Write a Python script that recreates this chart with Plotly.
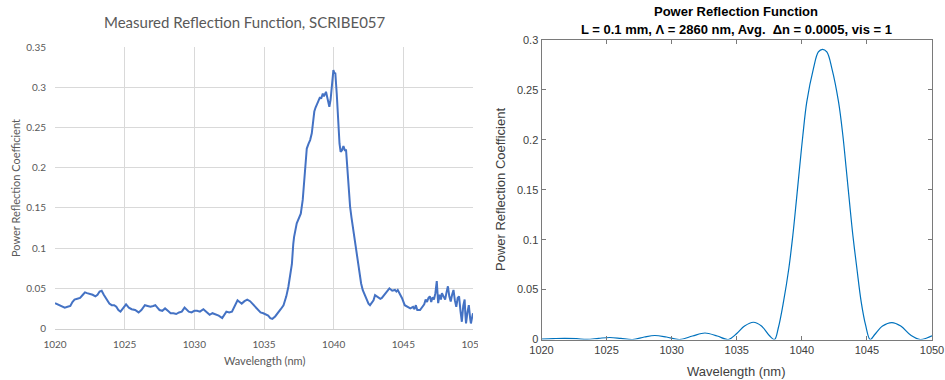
import plotly.graph_objects as go

# ---------------- data ----------------
meas_wl = [1020.0, 1020.2, 1020.36, 1020.5, 1020.7, 1020.9, 1021.1, 1021.25, 1021.4, 1021.6, 1021.8, 1022.0,
           1022.15, 1022.3, 1022.5, 1022.7, 1022.9, 1023.05, 1023.2, 1023.35, 1023.5, 1023.7, 1023.9, 1024.07,
           1024.25, 1024.4, 1024.55, 1024.7, 1024.9, 1025.1, 1025.3, 1025.5, 1025.75, 1026.0, 1026.2, 1026.45,
           1026.65, 1026.85, 1027.05, 1027.2, 1027.35, 1027.5, 1027.7, 1027.9, 1028.1, 1028.3, 1028.5, 1028.7,
           1028.9, 1029.1, 1029.3, 1029.45, 1029.6, 1029.8, 1030.0, 1030.2, 1030.4, 1030.65, 1030.85, 1031.1,
           1031.3, 1031.5, 1031.75, 1032.0, 1032.15, 1032.3, 1032.5, 1032.7, 1032.9, 1033.1, 1033.25, 1033.4,
           1033.6, 1033.8, 1034.0, 1034.15, 1034.3, 1034.5, 1034.75, 1034.95, 1035.1, 1035.3, 1035.45, 1035.6,
           1035.8, 1036.0, 1036.2, 1036.4, 1036.6, 1036.75, 1036.9, 1037.0, 1037.1, 1037.16, 1037.35, 1037.5,
           1037.64, 1037.78, 1037.88, 1037.95, 1038.07, 1038.2, 1038.31, 1038.43, 1038.52, 1038.61, 1038.7,
           1038.79, 1038.9, 1039.02, 1039.1, 1039.22, 1039.3, 1039.45, 1039.55, 1039.69, 1039.78, 1039.86,
           1039.93, 1039.98, 1040.05, 1040.12, 1040.22, 1040.28, 1040.33, 1040.42, 1040.5, 1040.6, 1040.7,
           1040.8, 1040.89, 1040.98, 1041.08, 1041.18, 1041.28, 1041.37, 1041.5, 1041.61, 1041.73, 1041.85,
           1041.97, 1042.09, 1042.25, 1042.38, 1042.5, 1042.61, 1042.75, 1042.86, 1042.97, 1043.1, 1043.21,
           1043.35, 1043.46, 1043.6, 1043.8, 1044.0, 1044.2, 1044.4, 1044.5, 1044.6, 1044.75, 1044.9, 1045.1,
           1045.3, 1045.5, 1045.7, 1045.8, 1045.9, 1046.0, 1046.2, 1046.35, 1046.5, 1046.6, 1046.7, 1046.8,
           1046.9, 1047.0, 1047.1, 1047.2, 1047.3, 1047.4, 1047.45, 1047.5, 1047.6, 1047.7, 1047.77, 1047.9,
           1048.0, 1048.1, 1048.2, 1048.3, 1048.4, 1048.5, 1048.6, 1048.7, 1048.8, 1048.9, 1049.0, 1049.1,
           1049.2, 1049.3, 1049.4, 1049.45, 1049.5, 1049.6, 1049.7, 1049.8, 1049.85, 1049.95, 1050.0]
meas_R = [0.0315, 0.030, 0.029, 0.027, 0.026, 0.027, 0.028, 0.033, 0.036, 0.037, 0.038, 0.042,
          0.045, 0.044, 0.043, 0.042, 0.040, 0.042, 0.046, 0.047, 0.042, 0.036, 0.031, 0.029,
          0.029, 0.027, 0.023, 0.021, 0.025, 0.030, 0.026, 0.024, 0.023, 0.020, 0.023, 0.029,
          0.028, 0.027, 0.028, 0.029, 0.026, 0.023, 0.022, 0.025, 0.022, 0.019, 0.019, 0.018,
          0.020, 0.021, 0.026, 0.024, 0.021, 0.020, 0.022, 0.022, 0.021, 0.024, 0.021, 0.017,
          0.019, 0.018, 0.016, 0.013, 0.017, 0.021, 0.020, 0.021, 0.028, 0.035, 0.033, 0.031,
          0.034, 0.036, 0.034, 0.031, 0.028, 0.024, 0.020, 0.019, 0.018, 0.016, 0.013, 0.012,
          0.015, 0.019, 0.024, 0.029, 0.040, 0.052, 0.070, 0.080, 0.105, 0.114, 0.131, 0.138,
          0.143, 0.160, 0.185, 0.201, 0.224, 0.230, 0.2345, 0.243, 0.258, 0.270, 0.275,
          0.280, 0.283, 0.288, 0.286, 0.2925, 0.289, 0.2946, 0.288, 0.276, 0.285, 0.297,
          0.315, 0.3217, 0.318, 0.3175, 0.2925, 0.270, 0.247, 0.230, 0.220, 0.222, 0.227,
          0.222, 0.222, 0.197, 0.175, 0.1515, 0.138, 0.1265, 0.112, 0.1016, 0.085, 0.0685,
          0.056, 0.0477, 0.041, 0.0352, 0.031, 0.029, 0.033, 0.035, 0.0415, 0.040, 0.0394,
          0.037, 0.038, 0.041, 0.046, 0.050, 0.047, 0.048, 0.046, 0.048, 0.043, 0.038, 0.029,
          0.027, 0.025, 0.027, 0.024, 0.029, 0.023, 0.023, 0.026, 0.030, 0.036, 0.033, 0.038,
          0.040, 0.033, 0.039, 0.036, 0.044, 0.059, 0.040, 0.0315, 0.042, 0.036, 0.044, 0.038,
          0.036, 0.045, 0.0525, 0.040, 0.0336, 0.042, 0.048, 0.035, 0.027, 0.038, 0.040, 0.022,
          0.0084, 0.028, 0.036, 0.018, 0.0063, 0.020, 0.029, 0.012, 0.0063, 0.015, 0.019]

sim_wl = [1020.0, 1020.9, 1021.8, 1022.7, 1023.5, 1024.4, 1025.25, 1026.1, 1027.0, 1027.9, 1028.7, 1029.6,
          1030.6, 1031.6, 1032.56, 1033.5, 1034.35, 1035.0, 1035.6, 1036.28, 1036.9, 1037.5, 1037.9,
          1038.2, 1038.59, 1039.0, 1039.31, 1039.57, 1039.82, 1040.08, 1040.38, 1040.89, 1041.27,
          1041.58, 1041.92, 1042.31, 1042.82, 1043.15, 1043.41, 1043.66, 1043.92, 1044.23, 1044.56,
          1044.9, 1045.25, 1045.6, 1046.2, 1046.92, 1047.6, 1048.4, 1049.1, 1049.6, 1050.0]
sim_R = [0.0004, 0.0009, 0.0012, 0.0008, 0.0001, 0.0012, 0.002, 0.0011, 0.0, 0.0025, 0.004, 0.0025,
         0.0, 0.0035, 0.0065, 0.0035, 0.0, 0.006, 0.0135, 0.0173, 0.0135, 0.004, 0.0,
         0.012, 0.0377, 0.0711, 0.1044, 0.1378, 0.171, 0.2046, 0.238, 0.2714, 0.288,
         0.2907, 0.288, 0.2714, 0.238, 0.2046, 0.171, 0.1378, 0.1044, 0.0711, 0.0377,
         0.0143, 0.0, 0.005, 0.0135, 0.017, 0.0135, 0.004, 0.0, 0.0015, 0.0037]

x_ticks = [1020, 1025, 1030, 1035, 1040, 1045, 1050]
left_y_ticks = [0, 0.05, 0.1, 0.15, 0.2, 0.25, 0.3, 0.35]
left_y_labels = ["0", "0.05", "0.1", "0.15", "0.2", "0.25", "0.3", "0.35"]
right_y_ticks = [0, 0.05, 0.1, 0.15, 0.2, 0.25, 0.3]
right_y_labels = ["0", "0.05", "0.1", "0.15", "0.2", "0.25", "0.3"]

W, H = 945, 380
def px(x): return x / W
def py(y): return 1 - y / H

XL_FONT = "Lato, 'Open Sans', sans-serif"
AR_FONT = "'Liberation Sans', Arial, sans-serif"

fig = go.Figure()
fig.add_trace(go.Scatter(x=meas_wl, y=meas_R, mode="lines", xaxis="x", yaxis="y",
                         line=dict(color="#4472C4", width=2), showlegend=False))
fig.add_trace(go.Scatter(x=sim_wl, y=sim_R, mode="lines", xaxis="x2", yaxis="y2",
                         line=dict(color="#0072BD", width=1.2, shape="spline", smoothing=1.0),
                         showlegend=False))

fig.update_layout(
    template="none",
    width=W, height=H, margin=dict(l=0, r=0, t=0, b=0, autoexpand=False),
    paper_bgcolor="white", plot_bgcolor="white",
    xaxis=dict(domain=[px(55), px(473)], range=[1020, 1050], tickvals=x_ticks, automargin=False,
               showgrid=True, gridcolor="#d9d9d9", gridwidth=1, zeroline=False,
               showline=True, linecolor="#d0d0d0", linewidth=1, ticks="", ticklabelstandoff=6,
               tickfont=dict(family=XL_FONT, size=10, color="#595959"), anchor="y"),
    yaxis=dict(domain=[py(328.5), py(47.3)], range=[0, 0.35], tickvals=left_y_ticks, automargin=False,
               ticktext=left_y_labels, showgrid=True, gridcolor="#d9d9d9", gridwidth=1,
               zeroline=False, showline=False, ticks="", ticklabelstandoff=8,
               tickfont=dict(family=XL_FONT, size=10, color="#595959"), anchor="x"),
    xaxis2=dict(domain=[px(541.5), px(932)], range=[1020, 1050], tickvals=x_ticks, automargin=False,
                showgrid=False, zeroline=False, showline=True, mirror="ticks",
                linecolor="#7a7a7a", linewidth=1, ticks="inside", ticklen=4, tickcolor="#7a7a7a",
                tickfont=dict(family=AR_FONT, size=11, color="#404040"), anchor="y2"),
    yaxis2=dict(domain=[py(339.5), py(40)], range=[0, 0.3], tickvals=right_y_ticks, automargin=False,
                ticktext=right_y_labels, showgrid=False, zeroline=False, showline=True,
                mirror="ticks", linecolor="#7a7a7a", linewidth=1, ticks="inside", ticklen=4,
                tickcolor="#7a7a7a",
                tickfont=dict(family=AR_FONT, size=11, color="#404040"), anchor="x2"),
)

ann = [
    dict(text="Measured Reflection Function, SCRIBE057", x=px(245), y=py(22),
         font=dict(family=XL_FONT, size=15, color="#595959")),
    dict(text="Wavelength (nm)", x=px(264), y=py(360),
         font=dict(family=XL_FONT, size=11, color="#595959")),
    dict(text="Power Reflection Coefficient", x=px(15), y=py(188), textangle=-90,
         font=dict(family=XL_FONT, size=11, color="#595959")),
    dict(text="<b>Power Reflection Function</b>", x=px(736), y=py(12),
         font=dict(family=AR_FONT, size=13, color="#000000")),
    dict(text="<b>L = 0.1 mm, \u039b = 2860 nm, Avg.  \u0394n = 0.0005, vis = 1</b>", x=px(736), y=py(29),
         font=dict(family=AR_FONT, size=13, color="#000000")),
    dict(text="Wavelength (nm)", x=px(736), y=py(371),
         font=dict(family=AR_FONT, size=13, color="#404040")),
    dict(text="Power Reflection Coefficient", x=px(500), y=py(190), textangle=-90,
         font=dict(family=AR_FONT, size=13, color="#404040")),
]
for a in ann:
    a.update(xref="paper", yref="paper", showarrow=False, xanchor="center", yanchor="middle")
fig.update_layout(annotations=ann)

# white strip mimicking the crop at the right edge of the left panel
fig.add_shape(type="rect", xref="paper", yref="paper", x0=px(478), x1=px(486), y0=0, y1=1,
              fillcolor="white", line=dict(width=0), layer="above")

fig.write_html("out.html")
